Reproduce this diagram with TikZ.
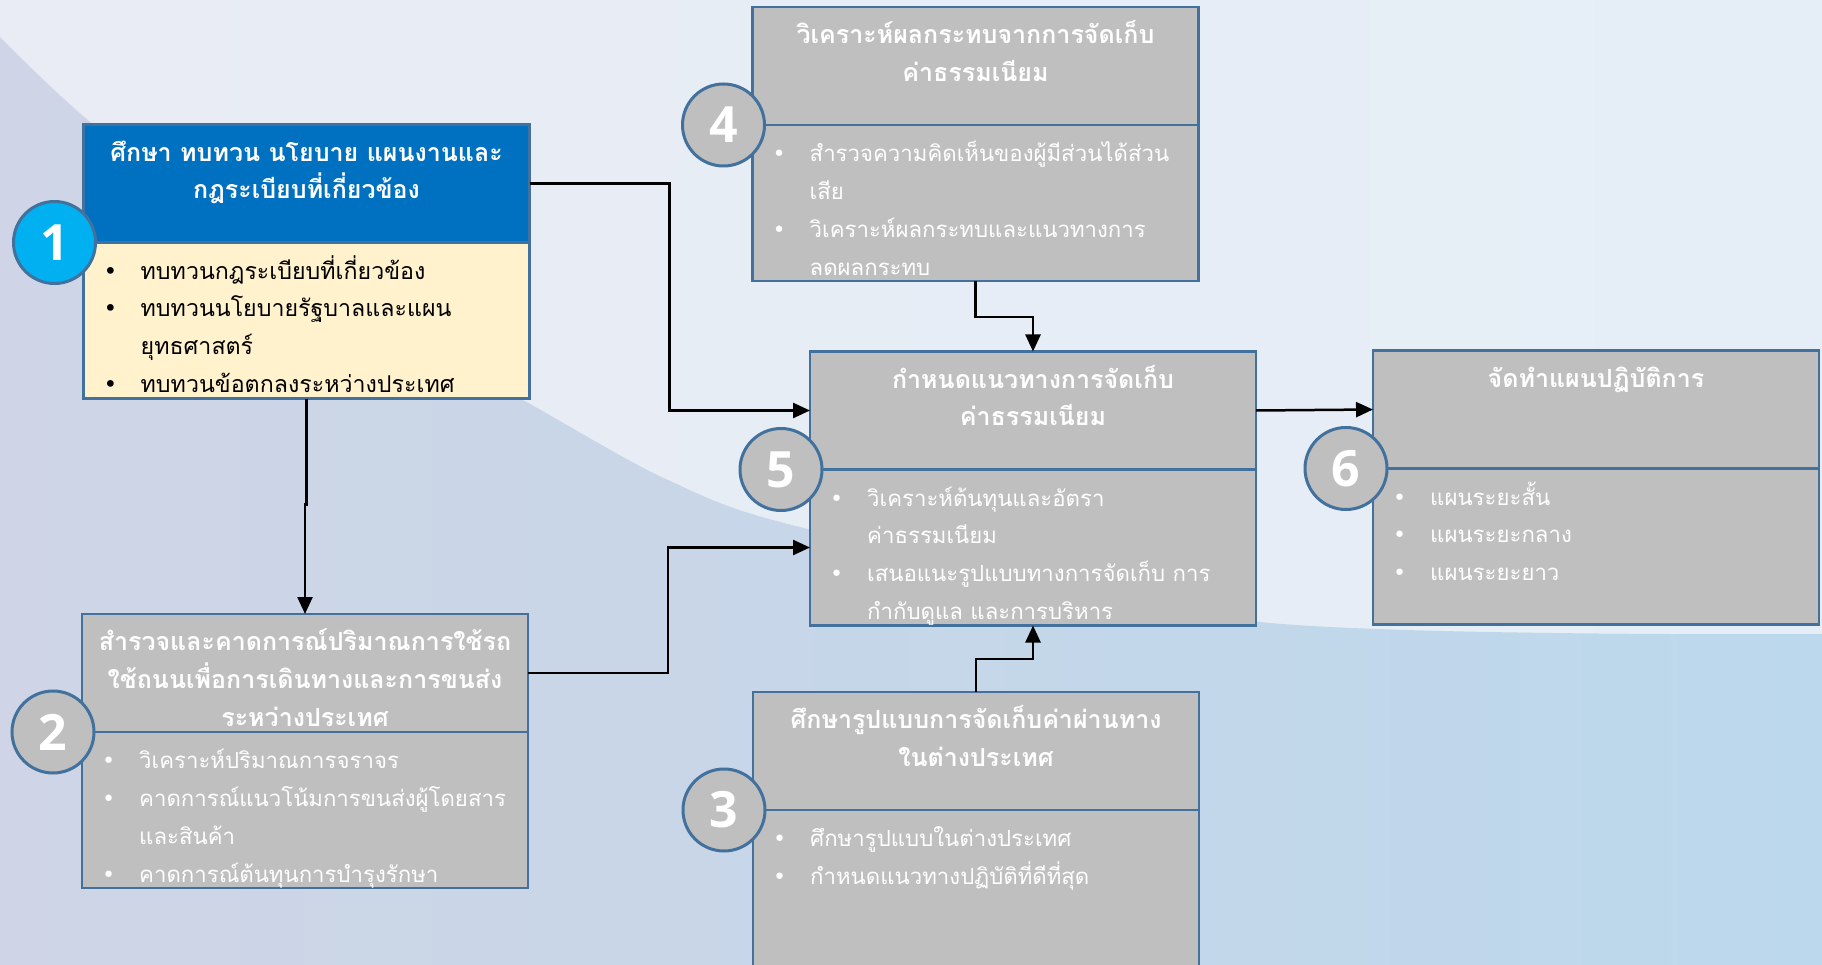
\documentclass[tikz,border=0pt]{standalone}
\usepackage{fontspec}
\setmainfont[Script=Thai]{Loma}
\newfontfamily\numfont{Open Sans}
\newfontfamily\symfont{DejaVu Sans}
\usetikzlibrary{positioning, arrows.meta, calc}
\definecolor{stblue}{HTML}{41719C}
\definecolor{hdblue}{HTML}{0070C0}
\definecolor{numcyan}{HTML}{00B0F0}
\definecolor{boxgray}{HTML}{BFBFBF}
\definecolor{cream}{HTML}{FFF2CC}
\definecolor{bgtop}{HTML}{E9ECF4}
\definecolor{bgtopr}{HTML}{E5EEF7}
\definecolor{bgleft}{HTML}{CFD5E6}
\definecolor{bgright}{HTML}{BCD8EC}
\newcommand\bulitem{\makebox[37pt][l]{{\symfont •}}}
\newcommand\bulcont{\hspace*{37pt}}

\begin{document}
\begin{tikzpicture}[x=1pt, y=-1pt,
    hd/.style={draw=stblue, line width=2.5pt, fill=boxgray, minimum width=446pt, minimum height=118pt, inner sep=0pt, outer sep=0pt},
    bd/.style={hd, minimum height=156pt},
    num/.style={circle, draw=stblue, line width=3pt, fill=boxgray, minimum size=82pt, inner sep=0pt, text=white, font=\numfont\bfseries\fontsize{50}{50}\selectfont},
    ht/.style={anchor=north, align=center, inner sep=0pt, text=white, font=\bfseries\fontsize{25}{37.8}\selectfont},
    bt/.style={anchor=north west, align=left, inner sep=0pt, text=white, font=\fontsize{22.2}{37.8}\selectfont},
    arr/.style={line width=2.5pt, -{Triangle[length=17pt, width=15pt]}}]
  \clip (0,0) rectangle (1822,965);
  % background
  \shade[left color=bgtop, right color=bgtopr] (0,0) rectangle (1822,965);
  \shade[left color=bgleft, right color=bgright] plot[smooth, tension=0.5] coordinates {(0,37) (100,130) (300,275) (523,400) (668,480) (808,529) (1260,622) (1822,634)} -- (1822,965) -- (0,965) -- cycle;

  % stages
  \node[hd, fill=hdblue] (h1) at (306.5,183.5) {};
  \node[bd, fill=cream, below=0pt of h1] (b1) {};
  \node[hd] (h2) at (305,673) {};
  \node[bd, below=0pt of h2] (b2) {};
  \node[hd] (h4) at (975.5,66) {};
  \node[bd, below=0pt of h4] (b4) {};
  \node[hd] (h5) at (1033,410.5) {};
  \node[bd, below=0pt of h5] (b5) {};
  \node[hd] (h3) at (976,751) {};
  \node[bd, below=0pt of h3, minimum height=190pt] (b3) {};
  \node[hd] (h6) at (1596,409.5) {};
  \node[bd, below=0pt of h6] (b6) {};

  % headings
  \node[ht] (t1) at ([yshift=-10pt]h1.north) {\strut ศึกษา ทบทวน นโยบาย แผนงานและ\\กฎระเบียบที่เกี่ยวข้อง};
  \node[ht] (t2) at ([yshift=-10pt]h2.north) {\strut สำรวจและคาดการณ์ปริมาณการใช้รถ\\ใช้ถนนเพื่อการเดินทางและการขนส่ง\\ระหว่างประเทศ};
  \node[ht] (t4) at ([yshift=-10pt]h4.north) {\strut วิเคราะห์ผลกระทบจากการจัดเก็บ\\ค่าธรรมเนียม};
  \node[ht] (t5) at ([yshift=-10pt]h5.north) {\strut กำหนดแนวทางการจัดเก็บ\\ค่าธรรมเนียม};
  \node[ht] (t3) at ([yshift=-10pt]h3.north) {\strut ศึกษารูปแบบการจัดเก็บค่าผ่านทาง\\ในต่างประเทศ};
  \node[ht] (t6) at ([yshift=-10pt]h6.north) {\strut จัดทำแผนปฏิบัติการ};

  % bullet lists
  \node[bt, text=black, font=\fontsize{23.2}{37.8}\selectfont] (l1) at ([shift={(20pt,-10pt)}]b1.north west) {\strut\bulitem ทบทวนกฎระเบียบที่เกี่ยวข้อง\\\bulitem ทบทวนนโยบายรัฐบาลและแผน\\\bulcont ยุทธศาสตร์\\\bulitem ทบทวนข้อตกลงระหว่างประเทศ};
  \node[bt] (l2) at ([shift={(20pt,-10pt)}]b2.north west) {\strut\bulitem วิเคราะห์ปริมาณการจราจร\\\bulitem คาดการณ์แนวโน้มการขนส่งผู้โดยสาร\\\bulcont และสินค้า\\\bulitem คาดการณ์ต้นทุนการบำรุงรักษา};
  \node[bt] (l4) at ([shift={(20pt,-10pt)}]b4.north west) {\strut\bulitem สำรวจความคิดเห็นของผู้มีส่วนได้ส่วน\\\bulcont เสีย\\\bulitem วิเคราะห์ผลกระทบและแนวทางการ\\\bulcont ลดผลกระทบ};
  \node[bt] (l5) at ([shift={(20pt,-10pt)}]b5.north west) {\strut\bulitem วิเคราะห์ต้นทุนและอัตรา\\\bulcont ค่าธรรมเนียม\\\bulitem เสนอแนะรูปแบบทางการจัดเก็บ การ\\\bulcont กำกับดูแล และการบริหาร};
  \node[bt] (l3) at ([shift={(20pt,-10pt)}]b3.north west) {\strut\bulitem ศึกษารูปแบบในต่างประเทศ\\\bulitem กำหนดแนวทางปฏิบัติที่ดีที่สุด};
  \node[bt] (l6) at ([shift={(20pt,-10pt)}]b6.north west) {\strut\bulitem แผนระยะสั้น\\\bulitem แผนระยะกลาง\\\bulitem แผนระยะยาว};

  % number badges
  \node[num, fill=numcyan] (c1) at ([xshift=-29pt]h1.south west) {1};
  \node[num] (c2) at ([xshift=-29pt]h2.south west) {2};
  \node[num] (c4) at ([xshift=-29pt]h4.south west) {4};
  \node[num] (c5) at ([xshift=-29pt]h5.south west) {5};
  \node[num] (c3) at ([xshift=-29pt]h3.south west) {3};
  \node[num] (c6) at ([xshift=-27pt]h6.south west) {6};

  % connectors
  \draw[arr] (h1.east) -- ++(140,0) |- (h5.west);
  \draw[arr] (b1.south) -- ++(0,106) -| (h2.north);
  \draw[arr] (h2.east) -- ++(140,0) |- (b5.west);
  \draw[arr] (b4.south) -- ++(0,36) -| (h5.north);
  \draw[arr] (h3.north) -- ++(0,-33) -| (b5.south);
  \draw[arr] (h5.east) -- (h6.west);
\end{tikzpicture}
\end{document}
